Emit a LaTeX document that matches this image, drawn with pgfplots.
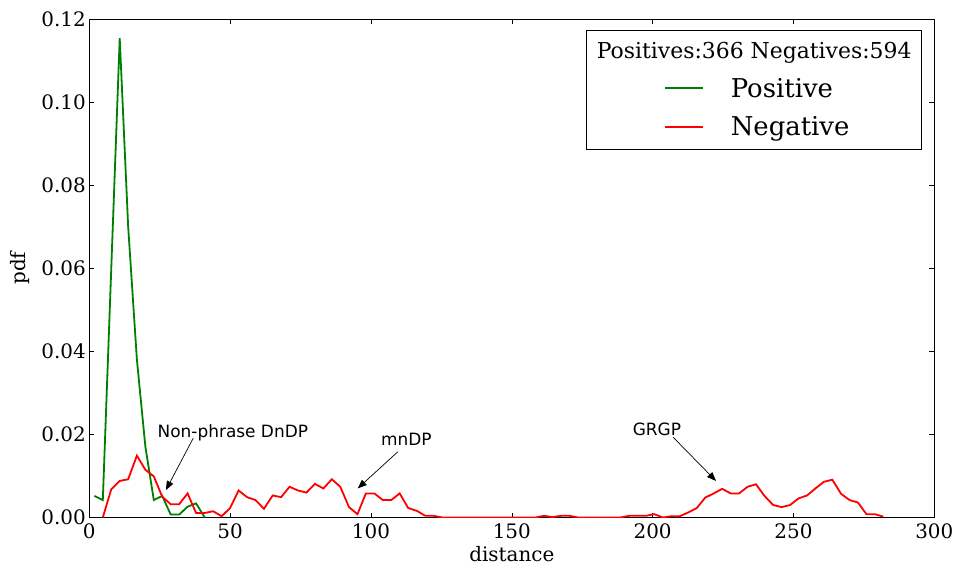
\documentclass[border=0pt]{standalone}
\usepackage{pgfplots}
\pgfplotsset{compat=1.18}
\usepackage{fontspec}
\setmainfont{DejaVu Serif}
\newfontfamily\annfont{DejaVu Sans}
\usetikzlibrary{arrows.meta}
\definecolor{mplgreen}{rgb}{0,0.5,0}
\definecolor{mplred}{rgb}{1,0,0}
\begin{document}
\begin{tikzpicture}
\begin{axis}[
  name=ax,
  scale only axis,
  width=845bp, height=498.5bp,
  xmin=0, xmax=300, ymin=0, ymax=0.12,
  xtick={0,50,100,150,200,250,300},
  ytick={0,0.02,0.04,0.06,0.08,0.10,0.12},
  scaled y ticks=false,
  yticklabel style={/pgf/number format/.cd, fixed, fixed zerofill, precision=2},
  /pgf/number format/assume math mode=true,
  ticklabel style={font=\fontsize{20}{24}\selectfont},
  xticklabel style={yshift=-3bp},
  tick align=inside,
  major tick length=5bp,
  tick style={black, line width=0.6bp},
  axis line style={black, line width=0.8bp},
  xlabel={distance}, ylabel={pdf},
  label style={font=\fontsize{20}{24}\selectfont},
  xlabel style={yshift=0bp},
  ylabel style={yshift=4.5bp},
  legend cell align=left,
  legend image code/.code={\path[draw=none] (-91bp,0bp) -- (43bp,0bp); \draw[line width=1.8bp] (-21bp,0bp) -- (17bp,0bp);},
  legend style={at={(0.9854,0.978)}, anchor=north east, draw=black, line width=0.8bp, fill=white,
    inner xsep=8bp, inner ysep=10bp, font=\fontsize{26}{30}\selectfont, row sep=14bp},
]
\addlegendimage{empty legend}
\addlegendentry{\fontsize{22}{26}\selectfont\hspace*{-134bp}Positives:366 Negatives:594}
\addplot[mplgreen, line width=1.8bp] coordinates {
(1.8,0.0052) (4.8,0.0042) (7.8,0.060) (10.8,0.1154) (13.8,0.070) (16.9,0.038)
(19.9,0.0171) (22.9,0.0042) (25.9,0.0052) (28.9,0.0007) (31.9,0.0007)
(34.9,0.0026) (37.9,0.0034) (41.0,0)
};
\addlegendentry{Positive}
\addplot[mplred, line width=1.8bp] coordinates {
(4.8,0) (7.8,0.0068) (10.8,0.0088) (13.8,0.0092) (16.9,0.0149) (19.9,0.0115)
(22.9,0.0099) (25.9,0.0050) (28.9,0.0032) (31.9,0.0032) (34.9,0.0058)
(37.9,0.0011) (41.0,0.0011) (44.0,0.0015) (47.0,0.0003) (50.0,0.0023)
(53.0,0.0065) (56.0,0.0049) (59.0,0.0042) (62.0,0.0021) (65.1,0.0053)
(68.1,0.0049) (71.1,0.0074) (74.1,0.0065) (77.1,0.0060) (80.1,0.0081)
(83.1,0.0070) (86.1,0.0092) (89.1,0.0074) (92.2,0.0025) (95.2,0.0008)
(98.2,0.0058) (101.2,0.0058) (104.2,0.0042) (107.2,0.0042) (110.2,0.0058)
(113.2,0.0023) (116.3,0.0016) (119.3,0.0004) (122.3,0.0004) (125.3,0)
(128.3,0) (131.3,0) (134.3,0) (137.3,0) (140.4,0) (143.4,0) (146.4,0)
(149.4,0) (152.4,0) (155.4,0) (158.4,0) (161.4,0.0004) (164.4,0.0001)
(167.5,0.0004) (170.5,0.0004) (173.5,0) (176.5,0) (179.5,0) (182.5,0)
(185.5,0) (188.5,0) (191.6,0.0004) (194.6,0.0004) (197.6,0.0004)
(200.6,0.0008) (203.6,0) (206.6,0.0003) (209.6,0.0003) (212.6,0.0012)
(215.7,0.0023) (218.7,0.0048) (221.7,0.0058) (224.7,0.0069) (227.7,0.0058)
(230.7,0.0058) (233.7,0.0074) (236.7,0.0080) (239.7,0.0052) (242.8,0.0030)
(245.8,0.0025) (248.8,0.0030) (251.8,0.0046) (254.8,0.0053) (257.8,0.0070)
(260.8,0.0086) (263.8,0.0091) (266.9,0.0057) (269.9,0.0042) (272.9,0.0036)
(275.9,0.0008) (278.9,0.0008) (281.9,0.0002)
};
\addlegendentry{Negative}
% annotations
\node[anchor=base west, inner sep=0pt, font=\annfont\fontsize{17}{20}\selectfont] at (axis cs:24.2,0.01926) {Non-phrase DnDP};
\draw[-{Triangle[length=9bp,width=7bp]}, line width=0.7bp] (axis cs:36.9,0.0191) -- (axis cs:27.2,0.0066);
\node[anchor=base west, inner sep=0pt, font=\annfont\fontsize{17}{20}\selectfont] at (axis cs:103.5,0.01745) {mnDP};
\draw[-{Triangle[length=9bp,width=7bp]}, line width=0.7bp] (axis cs:109.5,0.0158) -- (axis cs:95.3,0.0070);
\node[anchor=base west, inner sep=0pt, font=\annfont\fontsize{17}{20}\selectfont] at (axis cs:192.9,0.01962) {GRGP};
\draw[-{Triangle[length=9bp,width=7bp]}, line width=0.7bp] (axis cs:207.3,0.0193) -- (axis cs:222.5,0.0088);
\end{axis}
\pgfresetboundingbox
\path ([shift={(-89.3bp,-48.5bp)}]ax.south west) rectangle ([shift={(21.7bp,19bp)}]ax.north east);
\end{tikzpicture}
\end{document}
